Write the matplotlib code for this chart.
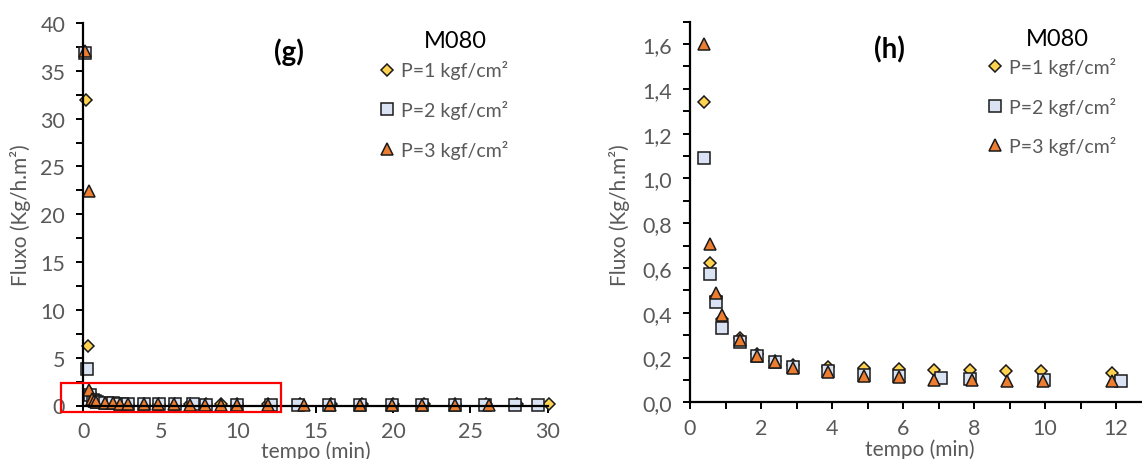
import matplotlib.pyplot as plt
from matplotlib.patches import Rectangle
from matplotlib.ticker import MultipleLocator, FuncFormatter

plt.rcParams['font.family'] = ['Lato', 'DejaVu Sans']

labels = ['P=1 kgf/cm²', 'P=2 kgf/cm²', 'P=3 kgf/cm²']

# panel (g): full run, 0-30 min
t1_g = [0.17, 0.32, 0.45, 0.6, 0.75, 0.9, 1.4, 1.9, 2.4, 2.9, 3.9, 4.9, 5.9, 6.9, 7.9, 8.9, 9.9, 11.9,
        14.0, 16.0, 18.0, 20.0, 22.0, 24.0, 26.0, 28.0, 30.1]
f1_g = [32.0, 6.26, 1.34, 0.62, 0.47, 0.37, 0.29, 0.21, 0.19, 0.17, 0.16, 0.15, 0.15, 0.15, 0.15, 0.14, 0.14, 0.13,
        0.12, 0.12, 0.12, 0.12, 0.12, 0.12, 0.12, 0.12, 0.12]
t2_g = [0.11, 0.26, 0.45, 0.6, 0.75, 0.9, 1.4, 1.9, 2.4, 2.9, 3.9, 4.9, 5.9, 7.1, 7.9, 9.9, 12.1,
        13.9, 15.9, 17.9, 19.96, 21.9, 24.0, 25.95, 27.9, 29.4]
f2_g = [36.9, 3.8, 1.09, 0.58, 0.45, 0.33, 0.27, 0.21, 0.18, 0.16, 0.14, 0.12, 0.12, 0.11, 0.10, 0.10, 0.09,
        0.09, 0.09, 0.09, 0.09, 0.09, 0.09, 0.09, 0.09, 0.09]
t3_g = [0.11, 0.36, 0.39, 0.55, 0.7, 0.85, 1.4, 1.9, 2.4, 2.9, 3.9, 4.85, 5.85, 6.9, 7.85, 8.9, 9.95, 11.9,
        14.26, 15.94, 17.9, 19.96, 21.9, 24.0, 26.2]
f3_g = [37.1, 22.4, 1.62, 0.71, 0.49, 0.39, 0.28, 0.21, 0.18, 0.15, 0.13, 0.12, 0.11, 0.10, 0.10, 0.09, 0.10, 0.10,
        0.09, 0.09, 0.09, 0.09, 0.09, 0.09, 0.09]

# panel (h): zoom of the first 12 min
t1_h = [0.40, 0.57, 0.74, 0.91, 1.40, 1.90, 2.40, 2.90, 3.90, 4.89, 5.89, 6.88, 7.90, 8.90, 9.90, 11.88]
f1_h = [1.343, 0.621, 0.47, 0.37, 0.285, 0.215, 0.185, 0.166, 0.156, 0.153, 0.149, 0.146, 0.146, 0.141, 0.141, 0.131]
t2_h = [0.40, 0.57, 0.74, 0.91, 1.40, 1.90, 2.40, 2.90, 3.90, 4.89, 5.89, 7.08, 7.88, 9.97, 12.14]
f2_h = [1.09, 0.575, 0.446, 0.334, 0.27, 0.208, 0.181, 0.156, 0.138, 0.122, 0.119, 0.108, 0.104, 0.100, 0.094]
t3_h = [0.40, 0.57, 0.74, 0.91, 1.40, 1.90, 2.40, 2.90, 3.90, 4.89, 5.89, 6.88, 7.95, 8.92, 9.95, 11.90]
f3_h = [1.60, 0.706, 0.49, 0.39, 0.28, 0.208, 0.178, 0.153, 0.134, 0.116, 0.111, 0.100, 0.100, 0.094, 0.097, 0.097]

gray = '#595959'
edge = '#1a1a1a'
styles = [dict(marker='D', ms=6.5, mfc='#FFD24F'),
          dict(marker='s', ms=8.5, mfc='#DAE3F3'),
          dict(marker='^', ms=9, mfc='#ED7D31')]

W, H = 1142, 460
fig = plt.figure(figsize=(W / 100, H / 100), dpi=100)


def fx(px):
    return px / W


def fy(py):
    return 1 - py / H


ax_g = fig.add_axes([fx(83.3), fy(406.5), fx(547.7 - 83.3), (406.5 - 24) / H])
ax_h = fig.add_axes([fx(690), fy(403.3), fx(W - 690), (403.3 - 22.7) / H])


def draw(ax, series):
    for (t, f), st, lab in zip(series, styles, labels):
        ax.plot(t, f, ls='none', mec=edge, mew=1.1, label=lab, clip_on=False, **st)
    for s in ['top', 'right']:
        ax.spines[s].set_visible(False)
    for s in ['left', 'bottom']:
        ax.spines[s].set_linewidth(1.6)
        ax.spines[s].set_color('black')
    ax.tick_params(which='both', direction='out', length=5, width=1.4, color='black',
                   labelsize=15.5, labelcolor=gray)
    ax.tick_params(axis='y', pad=8)
    ax.tick_params(axis='x', pad=6)
    leg = ax.legend(frameon=False, loc='upper left', fontsize=14,
                    labelspacing=1.06, handlelength=0.7,
                    handletextpad=0.4, borderpad=0, borderaxespad=0,
                    bbox_transform=fig.transFigure)
    for txt in leg.get_texts():
        txt.set_color(gray)
    return leg


leg_g = draw(ax_g, [(t1_g, f1_g), (t2_g, f2_g), (t3_g, f3_g)])
leg_h = draw(ax_h, [(t1_h, f1_h), (t2_h, f2_h), (t3_h, f3_h)])
leg_g.set_bbox_to_anchor((fx(380), fy(61.5)), transform=fig.transFigure)
leg_h.set_bbox_to_anchor((fx(988), fy(58)), transform=fig.transFigure)

ax_g.set_xlim(0, 30)
ax_g.set_ylim(0, 40)
ax_g.xaxis.set_major_locator(MultipleLocator(5))
ax_g.yaxis.set_major_locator(MultipleLocator(5))
ax_g.yaxis.set_minor_locator(MultipleLocator(2.5))

ax_h.set_xlim(0, (W - 690) / 35.5)
ax_h.set_ylim(0, 1.7)
ax_h.xaxis.set_major_locator(MultipleLocator(2))
ax_h.xaxis.set_minor_locator(MultipleLocator(1))
ax_h.yaxis.set_major_locator(MultipleLocator(0.2))
ax_h.yaxis.set_minor_locator(MultipleLocator(0.1))
ax_h.yaxis.set_major_formatter(FuncFormatter(lambda v, p: f'{v:.1f}'.replace('.', ',')))

# highlighted region in (g) that is shown in (h)
ax_g.add_patch(Rectangle((-1.46, -0.68), 12.75 + 1.46, 2.36 + 0.68, fill=False,
                         ec='#FF0000', lw=1.6, clip_on=False, zorder=5))

for xl, yb, xc, xm, ym in [(20.6, 458, 316, 455, 41), (620, 456, 920, 1057, 39)]:
    fig.text(fx(xl), fy(215), 'Fluxo (Kg/h.m²)', rotation=90, ha='center', va='center',
             fontsize=15, color=gray)
    fig.text(fx(xc), fy(yb), 'tempo (min)', ha='center', va='baseline', fontsize=15, color=gray)
    fig.text(fx(xm), fy(ym), 'M080', ha='center', va='center', fontsize=17, color='black')

fig.text(fx(289), fy(52), '(g)', ha='center', va='center', fontsize=20, fontweight='bold')
fig.text(fx(889), fy(50), '(h)', ha='center', va='center', fontsize=20, fontweight='bold')

fig.savefig('out.png', dpi=100)
